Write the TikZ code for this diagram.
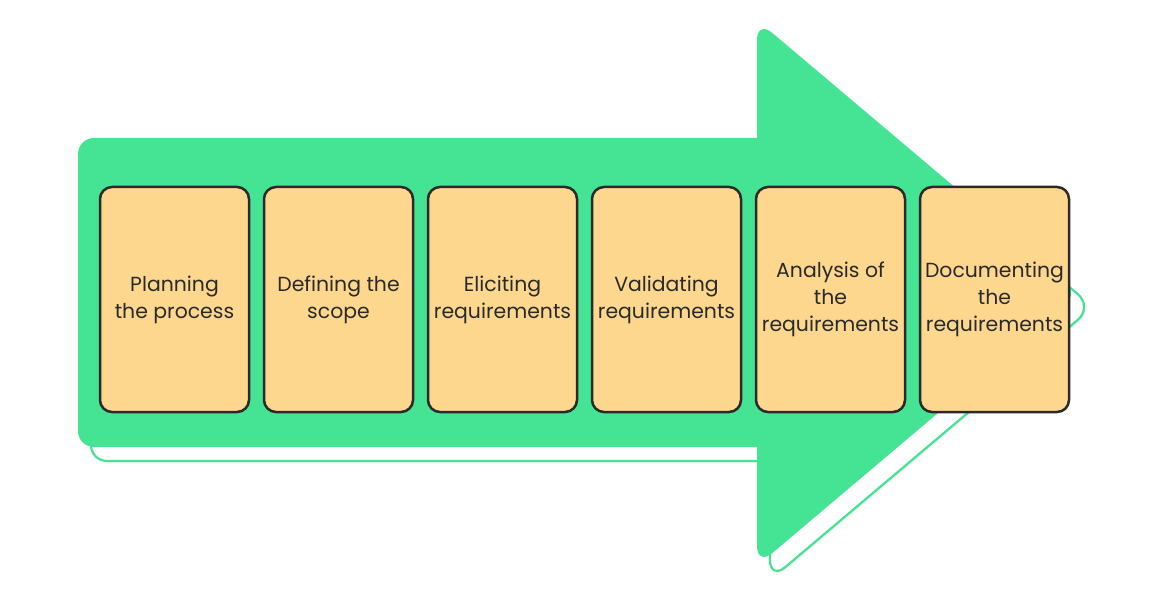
\documentclass[tikz,border=0pt]{standalone}
\usepackage{fontspec}
\setmainfont{Poppins}
\usetikzlibrary{shadows}
\definecolor{verde}{HTML}{44E494}
\definecolor{crema}{HTML}{FED78E}
\definecolor{borde}{HTML}{2A2A2A}
\begin{document}
\begin{tikzpicture}[
    x=0.5pt, y=0.5pt,
    card/.style   = {draw=borde, line width=1.25pt, fill=crema, rounded corners=6pt,
                     minimum width=74.5pt, minimum height=112.5pt, inner sep=0pt,
                     align=center, text=borde, font=\fontsize{10.2}{13.6}\selectfont},
    cuerpo/.style = {rounded corners=8pt},
    punta/.style  = {rounded corners=10pt},
    sombra/.style = {fill=white, draw=verde, line width=1.1pt,
                     drop shadow={shadow xshift=0.6pt, shadow yshift=-0.8pt, opacity=0.12}},
  ]
  \useasboundingbox (0,0) rectangle (1170,600);
  % Sombra (blanca, con borde verde)
  \begin{scope}[xshift=6.5pt, yshift=-7pt]
    \path[cuerpo, sombra] (78,153) rectangle (800,462);
    \path[punta, sombra] (757,307) -- (757,580) -- (1080,307) -- (757,34) -- cycle;
  \end{scope}
  % Flecha (verde)
  \fill[cuerpo, verde] (78,153) rectangle (800,462);
  \fill[punta, verde] (757,307) -- (757,580) -- (1080,307) -- (757,34) -- cycle;
  % Pasos
  \foreach \txt [count=\i] in {{Planning\\the process}, {Defining the\\scope},
      {Eliciting\\requirements}, {Validating\\requirements},
      {Analysis of\\the\\requirements}, {Documenting\\the\\requirements}} {
    \node[card] (paso\i) at ({174.5+164*(\i-1)}, 300.5) {\txt};
  }
\end{tikzpicture}
\end{document}
